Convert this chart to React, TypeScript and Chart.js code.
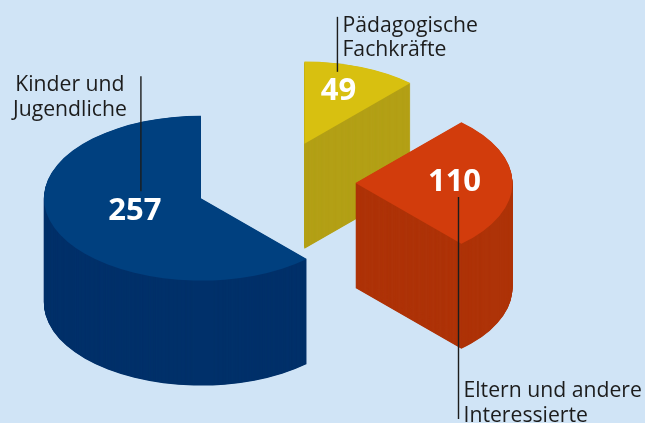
import React, { useEffect, useRef } from "react";
import { Chart, registerables } from "chart.js";

Chart.register(...registerables);

const categories = [["Pädagogische", "Fachkräfte"], ["Eltern und andere", "Interessierte"], ["Kinder und", "Jugendliche"]];
const values = [49, 110, 257];
const topColors = ["#D8C010", "#D23C0C", "#00407F"];
const sideColors = ["#B3A016", "#AE3308", "#00316A"];

const BG = "#D0E4F6";
const SQUASH = 0.525;
const DEPTH = 105;
const RADIUS = 157;
const EXPLODE = 80;
const INK = "#1c1c1c";

// Annotation placement relative to each slice's exploded apex, in screen pixels.
const annotations = [
  { value: [34, -53], line: [33, -127, -72], text: [38, -112], align: "left" },
  { value: [99, -1], line: [103, 14, 236], text: [108, 214], align: "left" },
  { value: [-66, 13], line: [-60, -122, -7], text: [-131, -107], align: "center" },
];

function explodeOf(arc: any) {
  const half = (arc.startAngle + arc.endAngle) / 2;
  return { dx: Math.cos(half) * EXPLODE, dy: Math.sin(half) * EXPLODE };
}

const pie3d = {
  id: "pie3d",
  // The slices are drawn here by the library's own arc elements, after the squash and explode.
  beforeDatasetDraw(chart: any) {
    const { ctx } = chart;
    const arcs = chart.getDatasetMeta(0).data;
    const cy = arcs[0].y;
    ctx.save();
    ctx.translate(0, cy);
    ctx.scale(1, SQUASH);
    ctx.translate(0, -cy);
    arcs.forEach((arc: any, i: number) => {
      const { dx, dy } = explodeOf(arc);
      const x = arc.x + dx;
      ctx.fillStyle = sideColors[i];
      for (let d = DEPTH; d > 0; d -= 0.5) {
        const y = arc.y + dy + d / SQUASH;
        ctx.beginPath();
        ctx.moveTo(x, y);
        ctx.arc(x, y, arc.outerRadius, arc.startAngle, arc.endAngle);
        ctx.closePath();
        ctx.fill();
      }
      ctx.save();
      ctx.translate(dx, dy);
      arc.draw(ctx);
      ctx.restore();
    });
    ctx.restore();

    arcs.forEach((arc: any, i: number) => {
      const { dx, dy } = explodeOf(arc);
      const a = { x: arc.x + dx, y: cy + dy * SQUASH };
      const n = annotations[i];
      ctx.strokeStyle = INK;
      ctx.lineWidth = 1.4;
      ctx.beginPath();
      ctx.moveTo(a.x + n.line[0], a.y + n.line[1]);
      ctx.lineTo(a.x + n.line[0], a.y + n.line[2]);
      ctx.stroke();

      ctx.fillStyle = "#ffffff";
      ctx.font = "bold 31px 'Open Sans'";
      ctx.textAlign = "center";
      ctx.textBaseline = "middle";
      ctx.fillText(String(values[i]), a.x + n.value[0], a.y + n.value[1]);

      ctx.fillStyle = INK;
      ctx.font = "21.2px 'Open Sans'";
      ctx.textAlign = n.align;
      ctx.textBaseline = "alphabetic";
      categories[i].forEach((line, k) => {
        ctx.fillText(line, a.x + n.text[0], a.y + n.text[1] + k * 24.5);
      });
    });
    return false;
  },
};

export default function App() {
  const ref = useRef<HTMLCanvasElement>(null);
  useEffect(() => {
    const chart = new Chart(ref.current!, {
      type: "pie",
      data: {
        labels: categories.map((c) => c.join(" ")),
        datasets: [
          {
            data: values,
            backgroundColor: topColors,
            borderWidth: 0,
            clip: false,
          } as any,
        ],
      },
      options: {
        responsive: false,
        animation: false,
        events: [],
        radius: RADIUS,
        layout: { padding: { right: 94, bottom: 57 } },
        plugins: { legend: { display: false }, tooltip: { enabled: false } },
      } as any,
      plugins: [pie3d],
    });
    return () => chart.destroy();
  }, []);
  return (
    <div style={{ position: "fixed", left: 0, top: 0, width: 645, height: 423, background: BG, overflow: "hidden" }}>
      <canvas ref={ref} width={645} height={423} style={{ display: "block" }} />
    </div>
  );
}
